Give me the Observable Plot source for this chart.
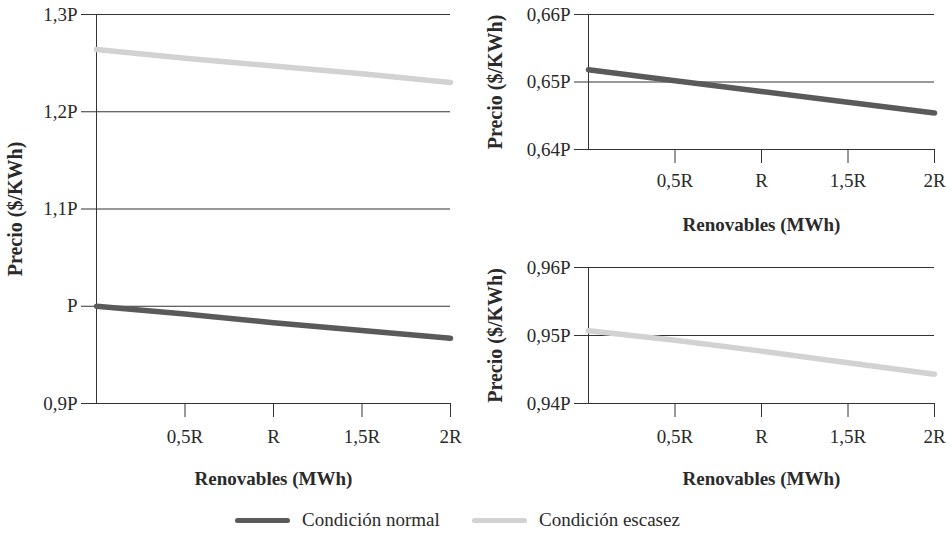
<!DOCTYPE html>
<html>
<head>
<meta charset="utf-8">
<script src="https://cdn.jsdelivr.net/npm/d3@7"></script>
<script src="https://cdn.jsdelivr.net/npm/@observablehq/plot@0.6"></script>
<style>
  body { margin: 0; background: #fff; }
  #wrap { position: relative; width: 952px; height: 536px; font-family: 'Liberation Serif', serif; color: #2a2a2a; }
  .panel { position: absolute; }
  .leg { position: absolute; top: 508px; font-size: 19px; line-height: 24px; white-space: nowrap; }
  .sw { position: absolute; top: 518px; height: 5px; border-radius: 3px; }
</style>
</head>
<body>
<div id="wrap"></div>
<script>
// ---- data ----
const xValues = [0, 0.5, 1, 1.5, 2];
const xTicks = [0.5, 1, 1.5, 2];
const xTickLabels = ["0,5R", "R", "1,5R", "2R"];

const leftYTicks = [0.9, 1.0, 1.1, 1.2, 1.3];
const leftYLabels = ["0,9P", "P", "1,1P", "1,2P", "1,3P"];
const topYTicks = [0.64, 0.65, 0.66];
const topYLabels = ["0,64P", "0,65P", "0,66P"];
const botYTicks = [0.94, 0.95, 0.96];
const botYLabels = ["0,94P", "0,95P", "0,96P"];

const normalLeft = [1.000, 0.992, 0.983, 0.975, 0.967];
const escasezLeft = [1.264, 1.255, 1.247, 1.239, 1.230];
const normalTop = [0.6518, 0.6502, 0.6486, 0.6470, 0.6454];
const escasezBottom = [0.9507, 0.9493, 0.9477, 0.9460, 0.9443];

const seriesNames = ["Condición normal", "Condición escasez"];
const seriesColors = ["#5a5a5a", "#d2d2d2"];

const xTitle = "Renovables (MWh)";
const yTitle = "Precio ($/KWh)";

// ---- helpers ----
const toRows = (vals) => xValues.map((x, i) => ({x, y: vals[i]}));

function panel({width, height, mLeft, mRight, mTop, mBottom, yDomain, yTicks, yLabels, lines, yTickSize, xPad}) {
  return Plot.plot({
    width, height,
    marginLeft: mLeft, marginRight: mRight, marginTop: mTop, marginBottom: mBottom,
    style: {background: "transparent", fontFamily: "'Liberation Serif', serif", fontSize: "19px", color: "#2a2a2a", overflow: "visible"},
    x: {domain: [0, 2]},
    y: {domain: yDomain},
    marks: [
      Plot.gridY(yTicks, {stroke: "#333", strokeOpacity: 1}),
      Plot.ruleX([0], {stroke: "#333"}),
      Plot.axisY({ticks: yTicks, tickFormat: d => yLabels[yTicks.indexOf(d)], tickSize: yTickSize, tickPadding: 4, label: null, stroke: "#333"}),
      Plot.axisX({ticks: xTicks, tickFormat: d => xTickLabels[xTicks.indexOf(d)], tickSize: 14, tickPadding: xPad, label: null, stroke: "#333"}),
      ...lines.map(l => Plot.line(toRows(l.vals), {x: "x", y: "y", stroke: l.color, strokeWidth: 5.5})),
      Plot.text([yTitle], {frameAnchor: "left", dx: -(mLeft - 15), rotate: -90, textAnchor: "middle", lineAnchor: "middle", text: d => d, fontWeight: "bold", fontSize: 20, fill: "#2a2a2a"}),
      Plot.text([xTitle], {frameAnchor: "bottom", dy: 75, textAnchor: "middle", lineAnchor: "middle", text: d => d, fontWeight: "bold", fontSize: 19, fill: "#2a2a2a"})
    ]
  });
}

const wrap = document.getElementById("wrap");

const leftPanel = panel({width: 470, height: 500, mLeft: 96, mRight: 20, mTop: 14, mBottom: 97,
  yDomain: [0.9, 1.3], yTicks: leftYTicks, yLabels: leftYLabels, yTickSize: 15, xPad: 12,
  lines: [{vals: escasezLeft, color: seriesColors[1]}, {vals: normalLeft, color: seriesColors[0]}]});
leftPanel.classList.add("panel"); leftPanel.style.left = "0px"; leftPanel.style.top = "0px";
wrap.appendChild(leftPanel);

const topPanel = panel({width: 472, height: 240, mLeft: 108, mRight: 18, mTop: 14, mBottom: 91,
  yDomain: [0.64, 0.66], yTicks: topYTicks, yLabels: topYLabels, yTickSize: 14, xPad: 10,
  lines: [{vals: normalTop, color: seriesColors[0]}]});
topPanel.classList.add("panel"); topPanel.style.left = "480px"; topPanel.style.top = "0px";
wrap.appendChild(topPanel);

const botPanel = panel({width: 472, height: 250, mLeft: 108, mRight: 18, mTop: 17, mBottom: 97,
  yDomain: [0.94, 0.96], yTicks: botYTicks, yLabels: botYLabels, yTickSize: 14, xPad: 12,
  lines: [{vals: escasezBottom, color: seriesColors[1]}]});
botPanel.classList.add("panel"); botPanel.style.left = "480px"; botPanel.style.top = "250px";
wrap.appendChild(botPanel);

// legend
const legendPos = [{sw: 235, tx: 302}, {sw: 472, tx: 539}];
seriesNames.forEach((name, i) => {
  const s = document.createElement("div");
  s.className = "sw";
  s.style.left = legendPos[i].sw + "px";
  s.style.width = "55px";
  s.style.background = seriesColors[i];
  wrap.appendChild(s);
  const t = document.createElement("div");
  t.className = "leg";
  t.style.left = legendPos[i].tx + "px";
  t.textContent = name;
  wrap.appendChild(t);
});
</script>
</body>
</html>
